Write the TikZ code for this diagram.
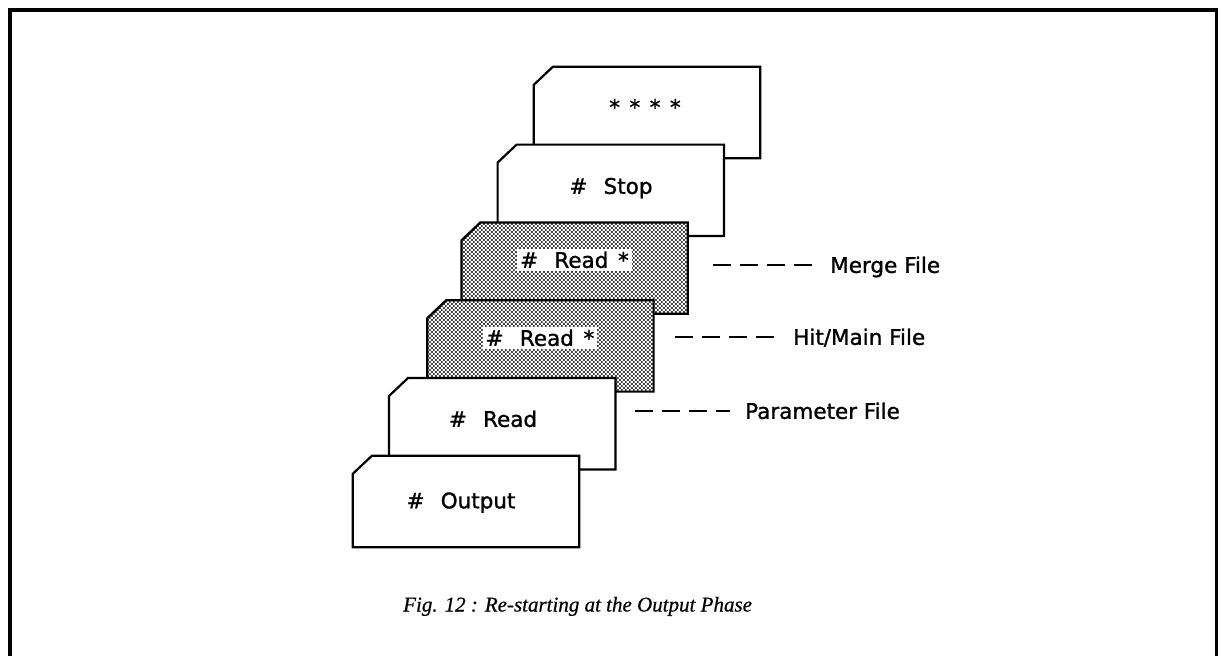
\documentclass[tikz,border=0pt]{standalone}
\usepackage{fontspec}
\setmainfont{Liberation Serif}
\setsansfont{DejaVu Sans}
\newfontfamily\cardfont{DejaVu Sans}[FakeBold=1.2]
\newfontfamily\captionfont{Liberation Serif}[FakeBold=0.6]
\usetikzlibrary{patterns}

% dense offset dot screen used for the shaded cards
\pgfdeclarepatternformonly{carddots}{\pgfpoint{-1.5pt}{-1.5pt}}{\pgfpoint{2.5pt}{2.5pt}}{\pgfpoint{4pt}{4pt}}{%
  \pgfpathcircle{\pgfpoint{0pt}{0pt}}{1.15pt}%
  \pgfpathcircle{\pgfpoint{2pt}{2pt}}{1.15pt}%
  \pgfusepath{fill}}

% outline of a card with a clipped top-left corner, around an invisible box node
\newcommand{\cardoutline}[2]{%
  \draw[#2] ([yshift=-18pt]#1.north west) -- ([xshift=19pt]#1.north west)
    -- (#1.north east) -- (#1.south east) -- (#1.south west) -- cycle;}

\begin{document}
\begin{tikzpicture}[x=1pt,y=-1pt,
  cardbox/.style={draw=none, minimum width=226pt, minimum height=91pt, inner sep=0pt},
  plaincard/.style={draw=black, line width=2.2pt, line join=miter, fill=white},
  shadedcard/.style={draw=black, line width=2.2pt, line join=miter,
    preaction={fill=white}, pattern=carddots, pattern color=black},
  cardtext/.style={font=\cardfont\fontsize{21.5}{24}\selectfont, fill=white,
    inner sep=3pt, text height=15.7pt, text depth=0pt},
  filelabel/.style={font=\cardfont\fontsize{21.5}{24}\selectfont, anchor=west,
    inner xsep=0pt, text height=15.7pt, text depth=0pt},
  dashline/.style={line width=2.2pt, dash pattern=on 18pt off 9pt},
  framestyle/.style={line width=3.5pt, line join=miter}]

\useasboundingbox (0,0) rectangle (1221,656);

% outer frame, open at the bottom
\draw[framestyle] (10,662) -- (10,10) -- (1216.5,10) -- (1216.5,662);

% stack of cards, back to front
\node[cardbox] (c1) at (647,112.5) {};
\cardoutline{c1}{plaincard}
\node[cardtext] (t1) at (645,107) {*\hspace{9.5pt}*\hspace{9.5pt}*\hspace{9.5pt}*};

\node[cardbox] (c2) at (610.8,190.3) {};
\cardoutline{c2}{plaincard}
\node[cardtext] (t2) at (611,186) {\#\hspace{0.75em}Stop};

\node[cardbox] (c3) at (574.6,268.1) {};
\cardoutline{c3}{shadedcard}
\node[cardtext] (t3) at (574.5,260) {\#\hspace{0.75em}Read\hspace{0.45em}*};

\node[cardbox] (c4) at (540.4,345.9) {};
\cardoutline{c4}{shadedcard}
\node[cardtext] (t4) at (540,338) {\#\hspace{0.75em}Read\hspace{0.45em}*};

\node[cardbox] (c5) at (502.2,423.7) {};
\cardoutline{c5}{plaincard}
\node[cardtext] (t5) at (493,419) {\#\hspace{0.75em}Read};

\node[cardbox] (c6) at (466,501.5) {};
\cardoutline{c6}{plaincard}
\node[cardtext] (t6) at (461,500.5) {\#\hspace{0.75em}Output};

% file labels with dashed leaders
\node[filelabel] (merge) at (830,265) {Merge File};
\coordinate (m0) at (713,265);
\draw[dashline] (m0) -- ([xshift=-18pt]merge.west);

\node[filelabel] (hit) at (793,337) {Hit/Main File};
\coordinate (h0) at (675,337);
\draw[dashline] (h0) -- ([xshift=-19pt]hit.west);

\node[filelabel] (param) at (745,411) {Parameter File};
\coordinate (p0) at (635,411);
\draw[dashline] (p0) -- ([xshift=-15pt]param.west);

% caption
\node[anchor=base west, inner sep=0pt, font=\captionfont\itshape\fontsize{21}{24}\selectfont]
  (caption) at (403,611.5) {Fig. 12 : Re-starting at the Output Phase};
\end{tikzpicture}
\end{document}
